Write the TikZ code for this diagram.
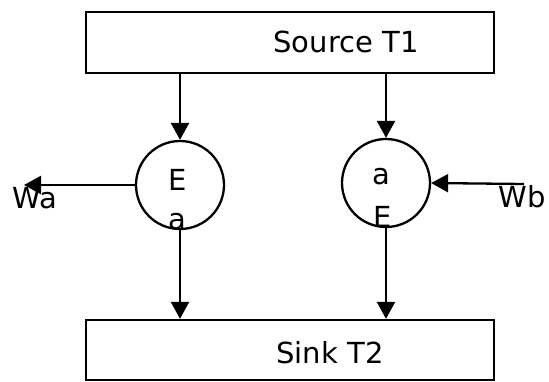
\documentclass[tikz,border=0pt]{standalone}
\usepackage{fontspec}
\setmainfont{DejaVu Sans}
\usetikzlibrary{arrows.meta}
\begin{document}
\begin{tikzpicture}[x=1pt,y=-1pt,
  box/.style={draw,line width=2.3pt,inner sep=0pt},
  ring/.style={draw,circle,line width=2.3pt,inner sep=0pt,minimum size=88pt},
  lbl/.style={font=\fontsize{29}{29}\selectfont,inner sep=0pt},
  arr/.style={line width=2.3pt,-{Triangle[length=17pt,width=18pt]}}]
\useasboundingbox (0,0) rectangle (549,381);
\node[box,minimum width=408pt,minimum height=61pt] (src) at (290,42.5) {};
\node[lbl] (srct) at (346,42) {Source T1};
\node[box,minimum width=408pt,minimum height=60pt] (sink) at (290,350) {};
\node[lbl] (sinkt) at (330,353) {Sink T2};
\node[ring] (ca) at (180,185) {};
\node[ring] (cb) at (386,183) {};
\node[lbl] (ca1) at (178,180) {E};
\node[lbl] (ca2) at (177,222) {a};
\node[lbl] (cb1) at (381,177) {a};
\node[lbl] (cb2) at (383,217) {E};
\node[lbl] (wat) at (35,198) {Wa};
\node[lbl] (wbt) at (522,197) {Wb};
\coordinate (wa) at (24,185);
\coordinate (wb) at (524,184);
\draw[arr] (src.south -| ca) -- (ca.north);
\draw[arr] (src.south -| cb) -- (cb.north);
\draw[arr] (ca.south) -- (ca.south |- sink.north);
\draw[arr] (cb.south) -- (cb.south |- sink.north);
\draw[arr] (ca.west) -- (wa);
\draw[arr] (wb) -- (cb.east);
\end{tikzpicture}
\end{document}
